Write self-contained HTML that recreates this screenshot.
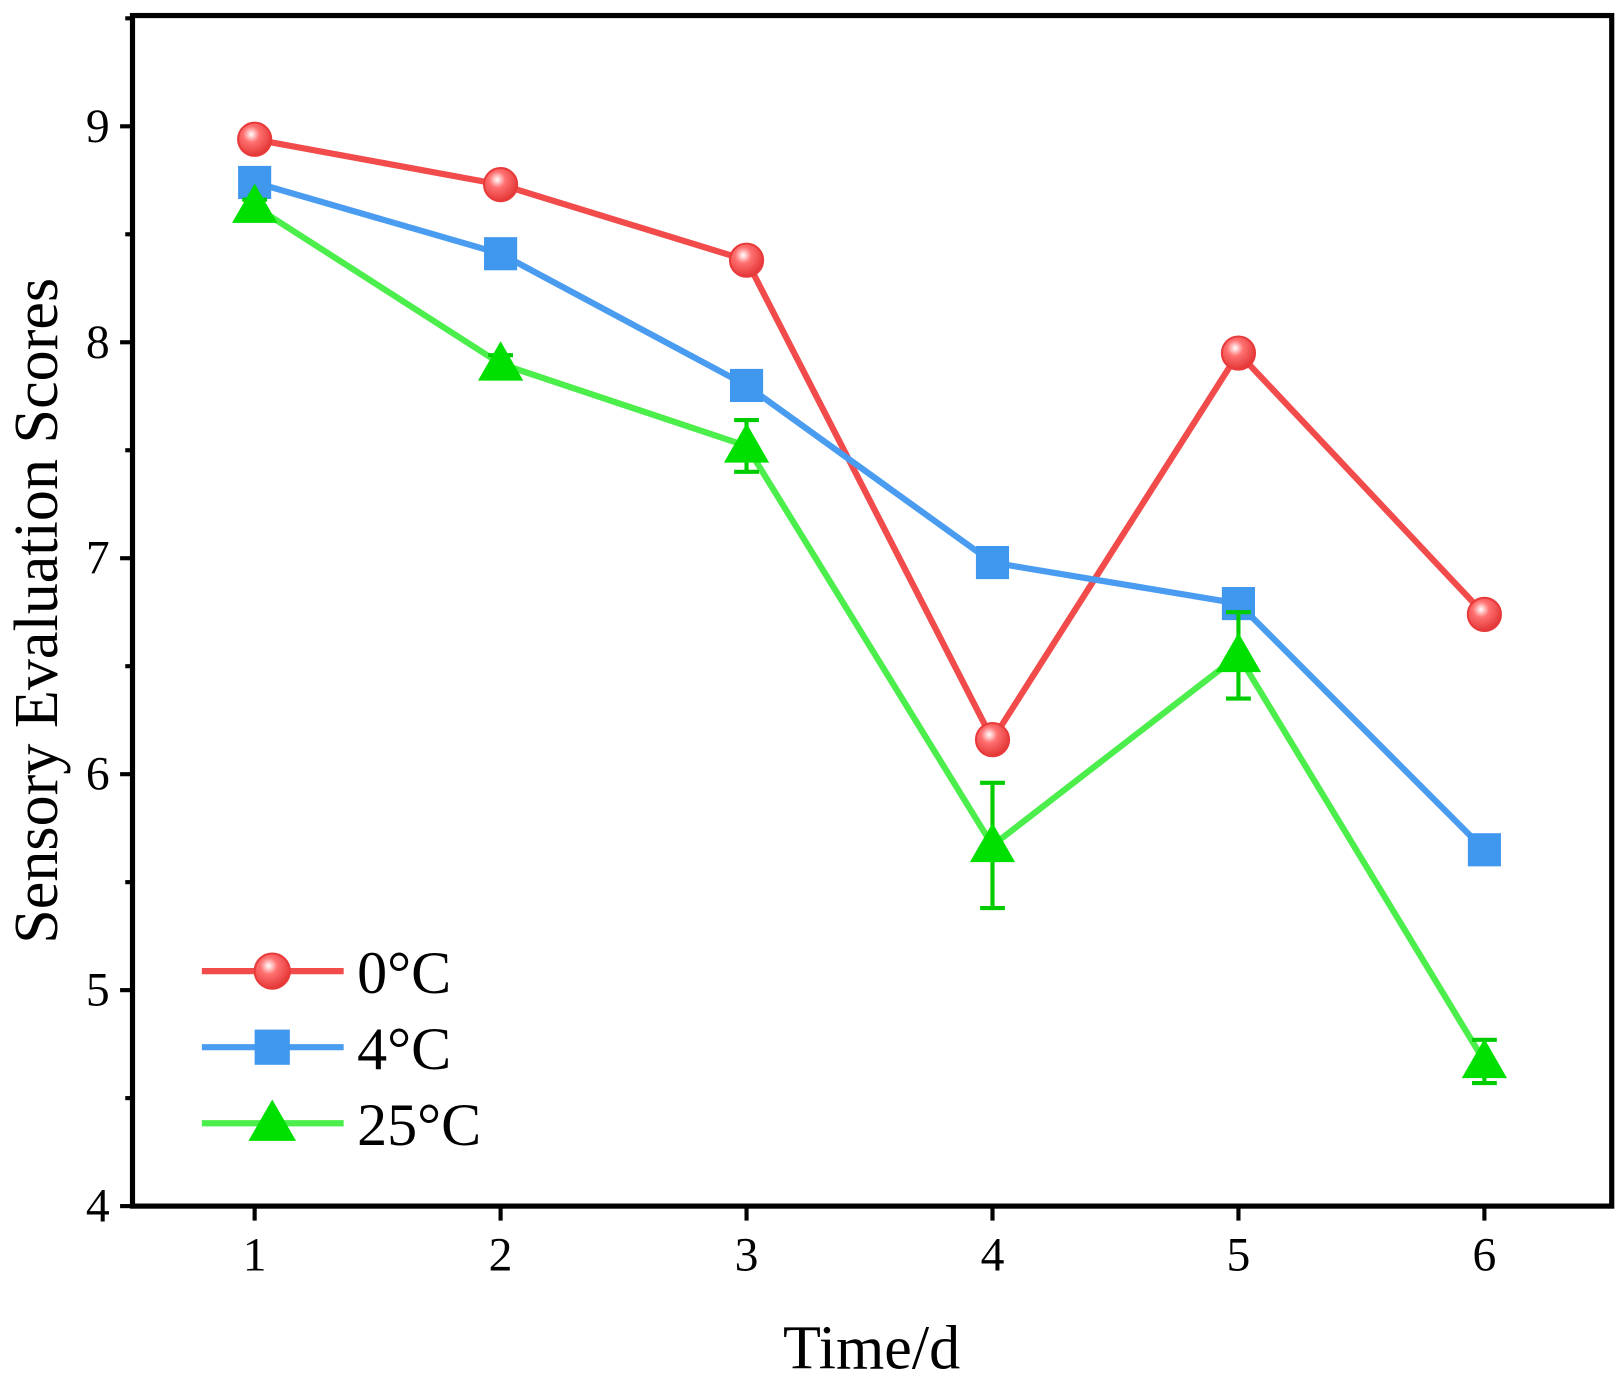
<!DOCTYPE html>
<html><head><meta charset="utf-8"><style>
html,body{margin:0;padding:0;background:#fff}
svg{display:block;font-family:"Liberation Serif",serif}
</style></head><body>
<svg id="chart" width="1620" height="1379" viewBox="0 0 1565 1332" preserveAspectRatio="none">
<defs>
<radialGradient id="gr" cx="0.4" cy="0.35" r="0.7"><stop offset="0" stop-color="#fff"/><stop offset="0.35" stop-color="#ff7070"/><stop offset="1" stop-color="#e03030"/></radialGradient>
</defs>
<g id="axes"></g>
<g id="series"></g>
<g id="legend"></g>
</svg>
<script>
const days=[1,2,3,4,5,6];
const s0=[8.94,8.73,8.38,6.16,7.95,6.74];
const s4=[8.74,8.41,7.80,6.98,6.79,5.65];
const s25=[8.63,7.90,7.52,5.67,6.55,4.67];
const e0=[0.03,0.03,0.03,0.03,0.03,0.03];
const e4=[0.03,0.03,0.03,0.03,0.03,0.04];
const e25=[0.03,0.04,0.12,0.29,0.2,0.1];
const yTicks=[4,5,6,7,8,9];
const xTicks=[1,2,3,4,5,6];
const names=["0°C","4°C","25°C"];
const NS="http://www.w3.org/2000/svg";
const L=128,R=1557,T=15,B=1165;
const X=v=>246+(v-1)*237.6;
const Y=v=>B-(v-4)*208.6;
function mk(t,a,p){const e=document.createElementNS(NS,t);for(const k in a)e.setAttribute(k,a[k]);p.appendChild(e);return e;}
const ax=document.getElementById('axes');
const fr=mk('rect',{x:L,y:T,width:R-L,height:B-T,fill:'none',stroke:'#000','stroke-width':5},ax);


yTicks.forEach(v=>{
 const t=mk('line',{x1:L-12,x2:L,y1:Y(v),y2:Y(v),stroke:'#000','stroke-width':4},ax);
 
 
 if(v<9.5){const m=mk('line',{x1:L-7,x2:L,y1:Y(v+0.5),y2:Y(v+0.5),stroke:'#000','stroke-width':4},ax);
 
 }
 const tx=mk('text',{x:L-22,y:Y(v)+15,'text-anchor':'end','font-size':46},ax);tx.textContent=v;
 
 
});
xTicks.forEach(v=>{
 const t=mk('line',{x1:X(v),x2:X(v),y1:B,y2:B+14,stroke:'#000','stroke-width':4},ax);
 
 
 const tx=mk('text',{x:X(v),y:B+62,'text-anchor':'middle','font-size':46},ax);tx.textContent=v;
 
 
});
const xt=mk('text',{x:842,y:1322,'text-anchor':'middle','font-size':60},ax);xt.textContent='Time/d';


const yt=mk('text',{x:0,y:0,'text-anchor':'middle','font-size':60,transform:'translate(55,590) rotate(-90)'},ax);yt.textContent='Sensory Evaluation Scores';



function marker(kind,cx,cy,p,sz){
 let e;
 if(kind==0){e=mk('circle',{cx:cx,cy:cy,r:sz,fill:'url(#gr)',stroke:'#e83a3a','stroke-width':2},p);}
 else if(kind==1){e=mk('rect',{x:cx-sz,y:cy-sz,width:2*sz,height:2*sz,fill:'#3f97ee'},p);}
 else{e=mk('polygon',{points:`${cx},${cy-sz*1.15} ${cx-sz*1.15},${cy+sz*0.85} ${cx+sz*1.15},${cy+sz*0.85}`,fill:'#00e000'},p);}
 return e;
}
const sg=document.getElementById('series');
const data=[s0,s4,s25],errs=[e0,e4,e25],cols=['#f24b4b','#4a9cf0','#4cee4c'],ecol=['#e83a3a','#3f97ee','#00cc00'];
data.forEach((s,k)=>{
 const g=mk('g',{},sg);
 
 
 const pl=mk('polyline',{points:s.map((v,i)=>X(days[i])+','+Y(v)).join(' '),fill:'none',stroke:cols[k],'stroke-width':6},g);
 
 
 s.forEach((v,i)=>{
  const x=X(days[i]),e=errs[k][i];
  const eb=mk('path',{d:`M${x},${Y(v+e)}V${Y(v-e)}M${x-12},${Y(v+e)}H${x+12}M${x-12},${Y(v-e)}H${x+12}`,stroke:ecol[k],'stroke-width':4,fill:'none'},g);
  
  
  const m=marker(k,x,Y(v),g,k==2?19:16);
  
  
 });
});
const lg=document.getElementById('legend');
names.forEach((n,k)=>{
 const y=938+k*73.5;
 const g=mk('g',{},lg);
 
 
 mk('line',{x1:195,x2:332,y1:y,y2:y,stroke:cols[k],'stroke-width':6},g);
 marker(k,263,y,g,k==2?20:17);
 const t=mk('text',{x:345,y:y+21,'font-size':58},g);t.textContent=n;
});
</script>
</body></html>
